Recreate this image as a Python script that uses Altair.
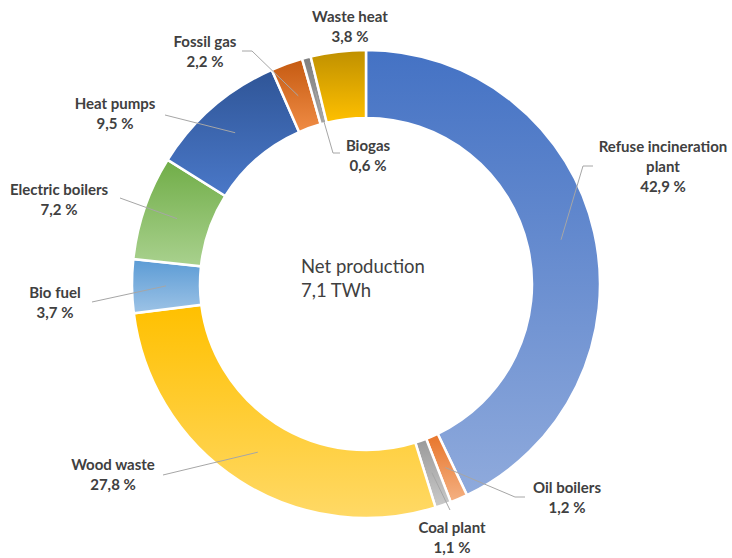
import altair as alt
import pandas as pd

# ---------------- data ----------------
categories = ["Refuse incineration plant", "Oil boilers", "Coal plant", "Wood waste",
              "Bio fuel", "Electric boilers", "Heat pumps", "Fossil gas", "Biogas", "Waste heat"]
shares = [42.9, 1.2, 1.1, 27.8, 3.7, 7.2, 9.5, 2.2, 0.6, 3.8]
label_names = ["Refuse incineration\nplant", "Oil boilers", "Coal plant", "Wood waste",
               "Bio fuel", "Electric boilers", "Heat pumps", "Fossil gas", "Biogas", "Waste heat"]
center_lines = ["Net production", "7,1 TWh"]

# ---------------- styles ----------------
color_top = ["#4472C4", "#E8752A", "#9A9A9A", "#FFC000", "#5B9BD5",
             "#70AD47", "#2F5597", "#C55A11", "#7F7F7F", "#BF9000"]
color_bottom = ["#8FAADC", "#F4B183", "#C9C9C9", "#FFD966", "#9DC3E6",
                "#A9D18E", "#4A78C8", "#F08C45", "#A5A5A5", "#FFC000"]
TEXT = "#404040"
LEADER = "#A6A6A6"
FONT = "Lato"

# ---------------- layout ----------------
W, H = 732, 558
CX, CY, R_OUT, R_IN = 366, 284, 234, 166
R_MID = (R_OUT + R_IN) / 2
# (x centre, y of first text line)
label_xy = {
    "Refuse incineration plant": (663, 147), "Oil boilers": (567, 488), "Coal plant": (452, 528),
    "Wood waste": (113, 465), "Bio fuel": (55, 293), "Electric boilers": (59, 190),
    "Heat pumps": (115, 104), "Fossil gas": (205, 42), "Biogas": (368, 146), "Waste heat": (350, 17),
}
leader_end = {
    "Refuse incineration plant": (583, 166), "Oil boilers": (515, 497), "Coal plant": (450, 510),
    "Wood waste": (163, 475), "Bio fuel": (92, 302), "Electric boilers": (120, 198),
    "Heat pumps": (165, 115), "Fossil gas": (252, 51), "Biogas": (333, 153),
}
leader_tail = {"Refuse incineration plant": 593, "Oil boilers": 525, "Fossil gas": 242, "Biogas": 340}
center_y = [267, 291]
CENTER_X = 301

rows = []
for i, c in enumerate(categories):
    pct = f"{shares[i]:.1f}".replace(".", ",") + " %"
    lx, ly = label_xy[c]
    ex, ey = leader_end.get(c, (None, None))
    rows.append(dict(cat=c, share=shares[i], order=i, label=label_names[i] + "\n" + pct,
                     lx=lx, ly=ly, ex=ex, ey=ey, tx=leader_tail.get(c)))
df = pd.DataFrame(rows)

base = alt.Chart(df).transform_window(
    cum="sum(share)", sort=[alt.SortField("order")], frame=[None, 0]
).transform_calculate(
    start="datum.cum - datum.share",
    mid="(datum.cum - datum.share / 2) * 2 * PI / 100",
    sx=f"{CX} + {R_MID} * sin(datum.mid)",
    sy=f"{CY} - {R_MID} * cos(datum.mid)",
)

theta_scale = alt.Scale(domain=[0, 100], range=[0, 6.283185307179586])

layers = []
for i, c in enumerate(categories):
    grad = alt.Gradient(gradient="linear",
                        stops=[alt.GradientStop(color=color_top[i], offset=0),
                               alt.GradientStop(color=color_bottom[i], offset=1)],
                        x1=0, x2=0, y1=0, y2=1)
    layers.append(
        base.transform_filter(alt.datum.cat == c).mark_arc(
            fill=grad, stroke="white", strokeWidth=2.5,
            radius=R_OUT, radius2=R_IN, x=CX, y=CY
        ).encode(theta=alt.Theta("start:Q", scale=theta_scale), theta2="cum:Q")
    )

leaders = base.transform_filter("isValid(datum.ex)").mark_rule(
    color=LEADER, strokeWidth=1
).encode(
    x=alt.X("sx:Q", scale=None, axis=None), y=alt.Y("sy:Q", scale=None, axis=None),
    x2="ex:Q", y2="ey:Q",
)
tails = base.transform_filter("isValid(datum.tx)").mark_rule(
    color=LEADER, strokeWidth=1
).encode(
    x=alt.X("ex:Q", scale=None, axis=None), y=alt.Y("ey:Q", scale=None, axis=None),
    x2="tx:Q", y2="ey:Q",
)

labels = base.mark_text(
    font=FONT, fontWeight="bold", fontSize=15, color=TEXT, lineBreak="\n",
    align="center", baseline="middle", lineHeight=20
).encode(
    x=alt.X("lx:Q", scale=None, axis=None), y=alt.Y("ly:Q", scale=None, axis=None),
    text="label:N",
)

cdf = pd.DataFrame({"t": center_lines, "y": center_y})
center = alt.Chart(cdf).mark_text(
    font=FONT, fontSize=18.5, color=TEXT, align="left", baseline="middle", x=CENTER_X
).encode(y=alt.Y("y:Q", scale=None, axis=None), text="t:N")

chart = alt.layer(*layers, leaders, tails, labels, center).properties(
    width=W, height=H, padding=0, autosize=alt.AutoSizeParams(type="none"),
    background="white",
).configure_view(stroke=None)

chart.save("out.html", embed_options={"renderer": "svg", "actions": False})
